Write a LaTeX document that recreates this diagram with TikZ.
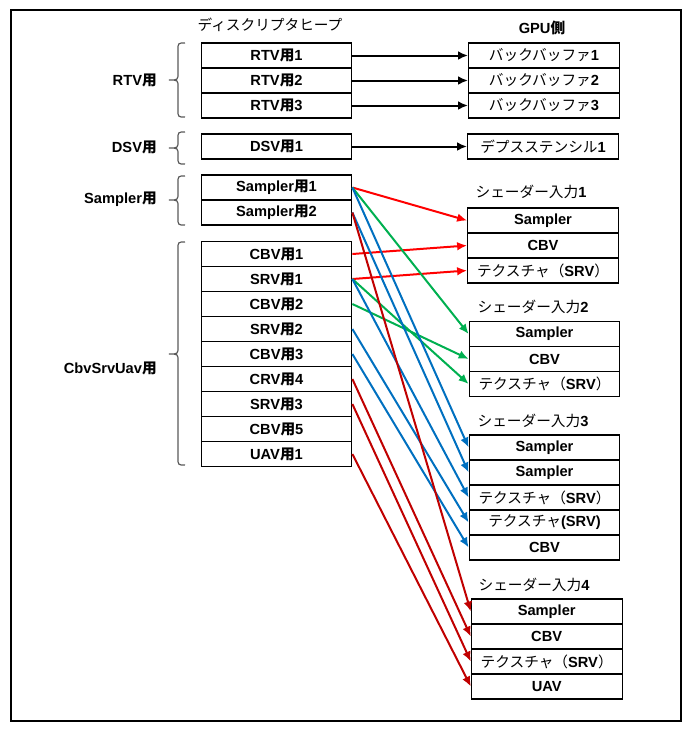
\documentclass[tikz,border=0pt]{standalone}
\usepackage{fontspec}
\setmainfont{Liberation Sans}
\newfontfamily\jp{Noto Sans CJK JP}
\usetikzlibrary{calc,arrows.meta}

\definecolor{arrred}{RGB}{255,0,0}
\definecolor{arrgreen}{RGB}{0,176,80}
\definecolor{arrblue}{RGB}{0,112,192}
\definecolor{arrdark}{RGB}{192,0,0}

\newcommand{\jpr}[1]{{\jp\mdseries #1}}
\newcommand{\jpb}[1]{{\jp\bfseries #1}}

\begin{document}
\begin{tikzpicture}[x=0.75pt,y=-0.75pt,
    cell/.style={draw=black, line width=0.8pt, minimum width=113pt, minimum height=18.75pt, inner sep=0pt, font=\fontsize{11}{12}\selectfont\bfseries},
    head/.style={inner sep=1pt, font=\fontsize{11}{12}\selectfont\bfseries},
    grplabel/.style={anchor=east, inner sep=0pt, font=\fontsize{11}{12}\selectfont\bfseries},
    grpbrace/.style={draw=black!65, line width=0.9pt},
    link/.style={-{Latex[length=7.5pt,width=6.5pt]}, line width=1.5pt}]

    \useasboundingbox (0,0) rectangle (699,733);
    \draw[line width=0.8pt] (11,10) rectangle (681,721);

    % headings
    \node[head] (heap) at (270,25) {\jpr{ディスクリプタヒープ}};
    \node[head] (gpu) at (542,28) {GPU\jpb{側}};

    % descriptor heap
    \node[cell] (rtv1) at (276.5,55.5) {RTV\jpb{用}1};
    \node[cell] (rtv2) at ($(rtv1) + (0,25)$) {RTV\jpb{用}2};
    \node[cell] (rtv3) at ($(rtv1) + (0,50)$) {RTV\jpb{用}3};

    \node[cell] (dsv1) at (276.5,146.5) {DSV\jpb{用}1};

    \node[cell] (smp1) at (276.5,187.5) {Sampler\jpb{用}1};
    \node[cell] (smp2) at ($(smp1) + (0,25)$) {Sampler\jpb{用}2};

    \node[cell] (cbv1) at (276.5,254) {CBV\jpb{用}1};
    \node[cell] (srv1) at ($(cbv1) + (0,25)$) {SRV\jpb{用}1};
    \node[cell] (cbv2) at ($(cbv1) + (0,50)$) {CBV\jpb{用}2};
    \node[cell] (srv2) at ($(cbv1) + (0,75)$) {SRV\jpb{用}2};
    \node[cell] (cbv3) at ($(cbv1) + (0,100)$) {CBV\jpb{用}3};
    \node[cell] (crv4) at ($(cbv1) + (0,125)$) {CRV\jpb{用}4};
    \node[cell] (srv3) at ($(cbv1) + (0,150)$) {SRV\jpb{用}3};
    \node[cell] (cbv5) at ($(cbv1) + (0,175)$) {CBV\jpb{用}5};
    \node[cell] (uav1) at ($(cbv1) + (0,200)$) {UAV\jpb{用}1};

    % groups
    \node[grplabel] (lrtv) at (157,80) {RTV\jpb{用}};
    \node[grplabel] (ldsv) at (157,147) {DSV\jpb{用}};
    \node[grplabel] (lsmp) at (157,199) {Sampler\jpb{用}};
    \node[grplabel] (lcsu) at (157,368) {CbvSrvUav\jpb{用}};

    \draw[grpbrace] (185,43) .. controls (178,43) .. (178,50) -- (178,73) .. controls (178,80) .. (169,80) .. controls (178,80) .. (178,87) -- (178,110) .. controls (178,117) .. (185,117);
    \draw[grpbrace] (185,132) .. controls (178,132) .. (178,139) -- (178,141) .. controls (178,148) .. (169,148) .. controls (178,148) .. (178,155) -- (178,157) .. controls (178,164) .. (185,164);
    \draw[grpbrace] (185,176) .. controls (178,176) .. (178,183) -- (178,193) .. controls (178,200) .. (169,200) .. controls (178,200) .. (178,207) -- (178,218) .. controls (178,225) .. (185,225);
    \draw[grpbrace] (185,242) .. controls (178,242) .. (178,249) -- (178,347) .. controls (178,354) .. (169,354) .. controls (178,354) .. (178,361) -- (178,458) .. controls (178,465) .. (185,465);

    % GPU side
    \node[cell] (bb1) at (544,55.5) {\jpr{バックバッファ}1};
    \node[cell] (bb2) at ($(bb1) + (0,25)$) {\jpr{バックバッファ}2};
    \node[cell] (bb3) at ($(bb1) + (0,50)$) {\jpr{バックバッファ}3};

    \node[cell] (ds1) at (543,146.5) {\jpr{デプスステンシル}1};

    \node[head, anchor=west] (in1) at (474,192) {\jpr{シェーダー入力}1};
    \node[cell] (s1smp) at (543,220.5) {Sampler};
    \node[cell] (s1cbv) at ($(s1smp) + (0,25)$) {CBV};
    \node[cell] (s1tex) at ($(s1smp) + (0,50)$) {\jpr{テクスチャ（}SRV\jpr{）}};

    \node[head, anchor=west] (in2) at (476,307) {\jpr{シェーダー入力}2};
    \node[cell] (s2smp) at (544.5,334) {Sampler};
    \node[cell] (s2cbv) at ($(s2smp) + (0,25)$) {CBV};
    \node[cell] (s2tex) at ($(s2smp) + (0,50)$) {\jpr{テクスチャ（}SRV\jpr{）}};

    \node[head, anchor=west] (in3) at (476,421) {\jpr{シェーダー入力}3};
    \node[cell] (s3smp) at (544.5,447.5) {Sampler};
    \node[cell] (s3smpb) at ($(s3smp) + (0,25)$) {Sampler};
    \node[cell] (s3tex) at ($(s3smp) + (0,50)$) {\jpr{テクスチャ（}SRV\jpr{）}};
    \node[cell] (s3texb) at ($(s3smp) + (0,75)$) {\jpr{テクスチャ}(SRV)};
    \node[cell] (s3cbv) at ($(s3smp) + (0,100)$) {CBV};

    \node[head, anchor=west] (in4) at (477,585) {\jpr{シェーダー入力}4};
    \node[cell] (s4smp) at (546.7,611.5) {Sampler};
    \node[cell] (s4cbv) at ($(s4smp) + (0,25)$) {CBV};
    \node[cell] (s4tex) at ($(s4smp) + (0,50)$) {\jpr{テクスチャ（}SRV\jpr{）}};
    \node[cell] (s4uav) at ($(s4smp) + (0,75)$) {UAV};

    % bindings
    \draw[link] (rtv1.east) -- (bb1.west);
    \draw[link] (rtv2.east) -- (bb2.west);
    \draw[link] (rtv3.east) -- (bb3.west);
    \draw[link] (dsv1.east) -- (ds1.west);

    \draw[link, arrred] (smp1.east) -- (s1smp.west);
    \draw[link, arrred] (cbv1.east) -- (s1cbv.west);
    \draw[link, arrred] (srv1.east) -- (s1tex.west);

    \draw[link, arrgreen] (smp1.east) -- (s2smp.west);
    \draw[link, arrgreen] (cbv2.east) -- (s2cbv.west);
    \draw[link, arrgreen] (srv1.east) -- (s2tex.west);

    \draw[link, arrblue] (smp1.east) -- (s3smp.west);
    \draw[link, arrblue] (smp2.east) -- (s3smpb.west);
    \draw[link, arrblue] (srv1.east) -- (s3tex.west);
    \draw[link, arrblue] (srv2.east) -- (s3texb.west);
    \draw[link, arrblue] (cbv3.east) -- (s3cbv.west);

    \draw[link, arrdark] (smp2.east) -- (s4smp.west);
    \draw[link, arrdark] (crv4.east) -- (s4cbv.west);
    \draw[link, arrdark] (srv3.east) -- (s4tex.west);
    \draw[link, arrdark] (uav1.east) -- (s4uav.west);

\end{tikzpicture}
\end{document}
